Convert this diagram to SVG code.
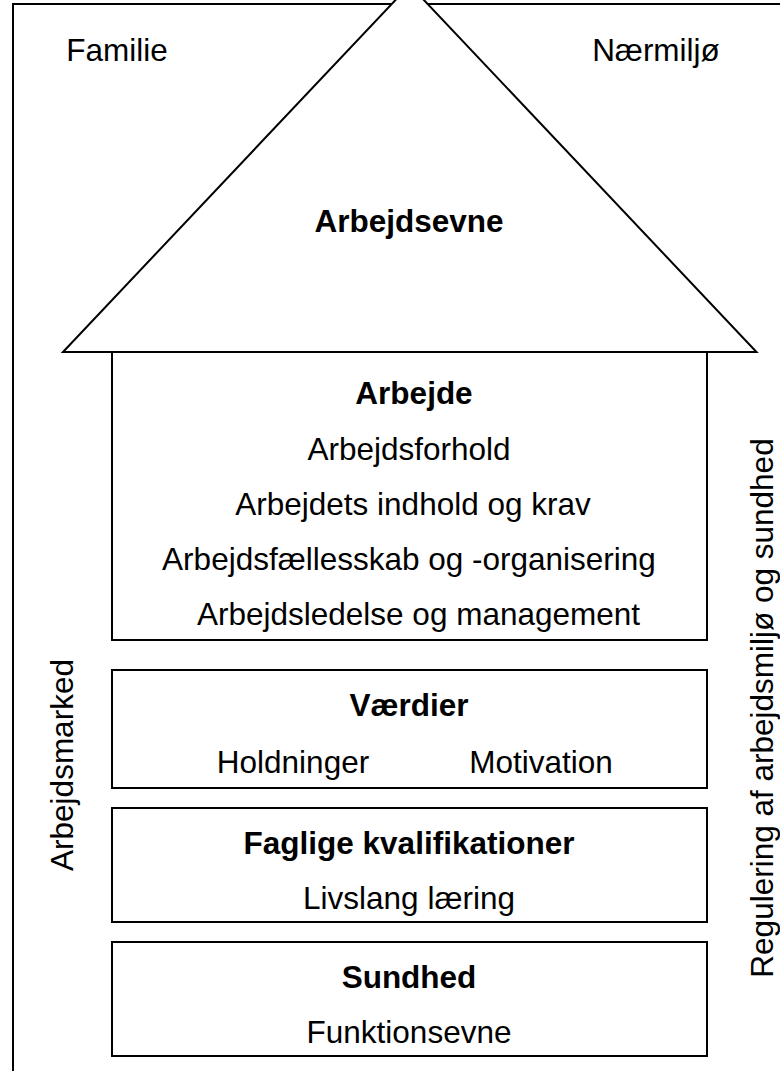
<svg xmlns="http://www.w3.org/2000/svg" width="780" height="1071" viewBox="0 0 780 1071">
<style>
.ln{fill:#fff;stroke:#000;stroke-width:2}
.t{font-family:"Liberation Sans",Arial,sans-serif;font-size:31.5px;fill:#000;text-anchor:middle}
.b{font-weight:bold}
</style>
<rect width="780" height="1071" fill="#fff"/>
<rect id="border" x="13" y="4" width="800" height="1100" fill="none" stroke="#000" stroke-width="2"/>
<g id="roof">
<polygon class="ln" points="63,352 409.7,-15 756.5,352"/>
<text class="t b" x="409" y="232">Arbejdsevne</text>
</g>
<g id="arbejde">
<rect class="ln" x="112" y="352" width="595" height="288"/>
<text class="t b" x="414" y="404">Arbejde</text>
<text class="t" x="409" y="460">Arbejdsforhold</text>
<text class="t" x="413" y="515">Arbejdets indhold og krav</text>
<text class="t" x="409" y="570">Arbejdsfællesskab og -organisering</text>
<text class="t" x="418.5" y="625">Arbejdsledelse og management</text>
</g>
<g id="vaerdier">
<rect class="ln" x="112" y="670" width="595" height="118"/>
<text class="t b" x="409" y="716">Værdier</text>
<text class="t" x="293" y="773">Holdninger</text>
<text class="t" x="541" y="773">Motivation</text>
</g>
<g id="faglige">
<rect class="ln" x="112" y="808" width="595" height="114"/>
<text class="t b" x="409" y="854">Faglige kvalifikationer</text>
<text class="t" x="409" y="909">Livslang læring</text>
</g>
<g id="sundhed">
<rect class="ln" x="112" y="942" width="595" height="114"/>
<text class="t b" x="409" y="988">Sundhed</text>
<text class="t" x="409" y="1043">Funktionsevne</text>
</g>
<g id="labels">
<text class="t" x="117" y="61">Familie</text>
<text class="t" x="656" y="61">Nærmiljø</text>
<text class="t" transform="translate(73,765) rotate(-90)">Arbejdsmarked</text>
<text class="t" transform="translate(773,708) rotate(-90)">Regulering af arbejdsmiljø og sundhed</text>
</g>
<g id="connectors"></g>
</svg>
